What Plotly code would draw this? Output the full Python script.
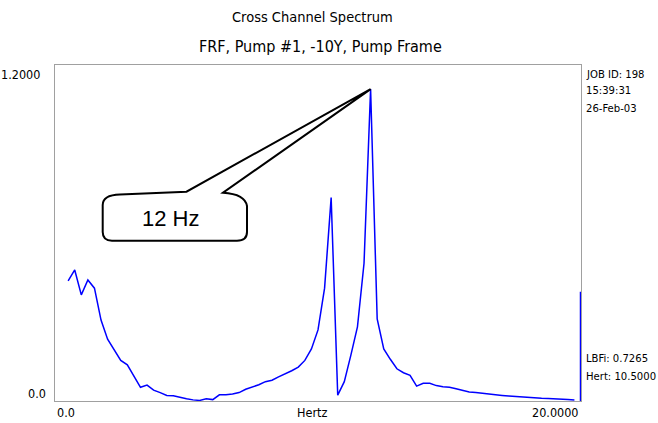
import plotly.graph_objects as go

# ---- data ----
freq_hz = [0.5, 0.75, 1.0, 1.25, 1.5, 1.75, 2.0, 2.25, 2.5, 2.75,
           3.0, 3.25, 3.5, 3.75, 4.0, 4.25, 4.5, 4.75, 5.0, 5.25,
           5.5, 5.75, 6.0, 6.25, 6.5, 6.75, 7.0, 7.25, 7.5, 7.75,
           8.0, 8.25, 8.5, 8.75, 9.0, 9.25, 9.5, 9.75, 10.0, 10.25,
           10.5, 10.75, 11.0, 11.25, 11.5, 11.75, 12.0, 12.25, 12.5, 12.75,
           13.0, 13.25, 13.5, 13.75, 14.0, 14.25, 14.5, 14.75, 15.0, 15.25,
           15.5, 15.75, 16.0, 16.25, 16.5, 16.75, 17.0, 17.25, 17.5, 17.75,
           18.0, 18.25, 18.5, 18.75, 19.0, 19.25, 19.5, 19.75]
magnitude = [0.429, 0.468, 0.379, 0.432, 0.403, 0.289, 0.221, 0.182, 0.145, 0.129,
             0.087, 0.049, 0.057, 0.039, 0.030, 0.020, 0.019, 0.013, 0.008, 0.004,
             0.002, 0.008, 0.005, 0.022, 0.022, 0.025, 0.030, 0.042, 0.050, 0.058,
             0.069, 0.074, 0.086, 0.096, 0.108, 0.121, 0.145, 0.186, 0.254, 0.403,
             0.7265, 0.021, 0.069, 0.164, 0.265, 0.492, 1.114, 0.293, 0.186, 0.149,
             0.115, 0.101, 0.092, 0.053, 0.063, 0.063, 0.055, 0.051, 0.049, 0.044,
             0.039, 0.032, 0.030, 0.027, 0.025, 0.022, 0.020, 0.018, 0.016, 0.014,
             0.012, 0.011, 0.010, 0.009, 0.007, 0.006, 0.005, 0.004]
cursor_x = [20.0, 20.0]
cursor_y = [0.0, 0.39]

x_range = [0.0, 20.0]
y_range = [0.0, 1.2]
x_labels = ["0.0", "Hertz", "20.0000"]
y_labels = ["1.2000", "0.0"]
title_text = "Cross Channel Spectrum"
subtitle_text = "FRF, Pump #1, -10Y, Pump Frame"
info_top = ["JOB ID: 198", "15:39:31", "26-Feb-03"]
info_bottom = ["LBFi: 0.7265", "Hert: 10.5000"]
callout_text = "12 Hz"

# ---- layout geometry (pixels) ----
W, H = 658, 423
L, R, T, B = 55, 581, 65, 401
NARROW = "DejaVu Sans Condensed, Liberation Sans Narrow, sans-serif"
REG = "Liberation Sans, Arial, sans-serif"
SMALL = 12.5
INFO = 11.2


def px2x(px):
    return x_range[0] + (px - L) / (R - L) * (x_range[1] - x_range[0])


def py2y(py):
    return y_range[0] + (B - py) / (B - T) * (y_range[1] - y_range[0])


def pxp(px):
    return (px - L) / (R - L)


def pyp(py):
    return (B - py) / (B - T)


fig = go.Figure()
fig.add_trace(go.Scatter(x=freq_hz, y=magnitude, mode="lines",
                         line=dict(color="#0000ff", width=1.5),
                         hoverinfo="skip", showlegend=False))
fig.add_trace(go.Scatter(x=cursor_x, y=cursor_y, mode="lines",
                         line=dict(color="#0000ff", width=2.5),
                         hoverinfo="skip", showlegend=False))

# callout pointing at the largest peak
ipk = max(range(len(magnitude)), key=lambda i: magnitude[i])
tip_x, tip_y = freq_hz[ipk], magnitude[ipk]


def P(px, py):
    return f"{px2x(px):.5f},{py2y(py):.5f}"


path = (f"M {P(120, 194.5)} L {P(186.5, 191.7)} L {tip_x},{tip_y} L {P(223, 192.7)} "
        f"Q {P(245, 194)} {P(247, 206)} L {P(247, 232)} "
        f"Q {P(247, 240.7)} {P(237, 240.7)} L {P(112, 240.7)} "
        f"Q {P(102.7, 240.7)} {P(102.7, 232)} L {P(102.7, 205)} "
        f"Q {P(102.7, 195)} {P(120, 194.5)} Z")
fig.add_shape(type="path", path=path, xref="x", yref="y",
              line=dict(color="black", width=2), fillcolor="white", layer="above")

ann = []
ann.append(dict(text=callout_text, x=px2x(170), y=py2y(218), xref="x", yref="y",
                showarrow=False, font=dict(family=REG, size=22, color="black"),
                xanchor="center", yanchor="middle"))
ann.append(dict(text=title_text, x=pxp(312), y=pyp(17), xref="paper", yref="paper",
                showarrow=False, font=dict(family=NARROW, size=14.5, color="black"),
                xanchor="center", yanchor="middle"))
ann.append(dict(text=subtitle_text, x=pxp(320), y=pyp(47), xref="paper", yref="paper",
                showarrow=False, font=dict(family=NARROW, size=16, color="black"),
                xanchor="center", yanchor="middle"))
# y labels
ann.append(dict(text=y_labels[0], x=pxp(42), y=pyp(74), xref="paper", yref="paper",
                showarrow=False, font=dict(family=NARROW, size=SMALL, color="black"),
                xanchor="right", yanchor="middle"))
ann.append(dict(text=y_labels[1], x=pxp(48), y=pyp(393.5), xref="paper", yref="paper",
                showarrow=False, font=dict(family=NARROW, size=SMALL, color="black"),
                xanchor="right", yanchor="middle"))
# x labels
ann.append(dict(text=x_labels[0], x=0, y=pyp(412.5), xref="paper", yref="paper",
                showarrow=False, font=dict(family=NARROW, size=SMALL, color="black"),
                xanchor="left", yanchor="middle"))
ann.append(dict(text=x_labels[1], x=pxp(312), y=pyp(412.5), xref="paper", yref="paper",
                showarrow=False, font=dict(family=NARROW, size=SMALL, color="black"),
                xanchor="center", yanchor="middle"))
ann.append(dict(text=x_labels[2], x=1, y=pyp(412.5), xref="paper", yref="paper",
                showarrow=False, font=dict(family=NARROW, size=SMALL, color="black"),
                xanchor="right", yanchor="middle"))
# right-side info
for i, t in enumerate(info_top):
    ann.append(dict(text=t, x=pxp(584), y=pyp(74 + 17 * i), xref="paper", yref="paper",
                    showarrow=False, font=dict(family=NARROW, size=INFO, color="black"),
                    xanchor="left", yanchor="middle"))
for i, t in enumerate(info_bottom):
    ann.append(dict(text=t, x=pxp(584), y=pyp(358 + 18 * i), xref="paper", yref="paper",
                    showarrow=False, font=dict(family=NARROW, size=INFO, color="black"),
                    xanchor="left", yanchor="middle"))

axis_common = dict(showgrid=False, zeroline=False, showticklabels=False, ticks="",
                   showline=True, mirror=True, linecolor="#a0a0a0", linewidth=1,
                   fixedrange=True)
fig.update_layout(
    width=W, height=H,
    margin=dict(l=L, r=W - R, t=T, b=H - B, pad=0),
    paper_bgcolor="white", plot_bgcolor="white",
    xaxis=dict(range=x_range, **axis_common),
    yaxis=dict(range=y_range, **axis_common),
    annotations=ann,
    showlegend=False,
)
fig.write_html("out.html", config={"displayModeBar": False},
               post_script="document.body.style.margin='0';document.body.style.overflow='hidden';")
